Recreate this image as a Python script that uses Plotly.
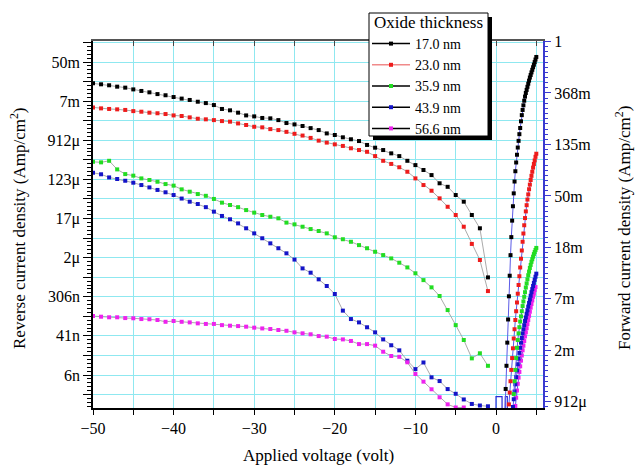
import numpy as np
import plotly.graph_objects as go

# ---------------- data (current density stored as natural log, A/cm^2) ----------------
series_names = ["17.0 nm", "23.0 nm", "35.9 nm", "43.9 nm", "56.6 nm"]
legend_title = "Oxide thickness"

rev_v = [-50, -49, -48, -47, -46, -45, -44, -43, -42, -41, -40, -39, -38, -37, -36, -35, -34,
         -33, -32, -31, -30, -29, -28, -27, -26, -25, -24, -23, -22, -21, -20, -19, -18, -17,
         -16, -15, -14, -13, -12, -11, -10, -9, -8, -7, -6, -5, -4, -3, -2, -1]
rev_v_56_6 = rev_v[:47]

ln_rev_17_0 = [-4.09, -4.14, -4.19, -4.26, -4.31, -4.40, -4.48, -4.55, -4.64, -4.70, -4.79, -4.87,
               -4.94, -5.03, -5.10, -5.20, -5.40, -5.47, -5.59, -5.73, -5.78, -5.86, -5.88, -5.97,
               -6.12, -6.19, -6.27, -6.38, -6.48, -6.65, -6.73, -6.85, -6.95, -7.04, -7.24, -7.38,
               -7.50, -7.67, -7.81, -8.05, -8.27, -8.52, -8.78, -9.20, -9.38, -9.80, -10.14, -10.82,
               -11.50, -14.01]
ln_rev_23_0 = [-5.32, -5.37, -5.40, -5.42, -5.45, -5.51, -5.54, -5.59, -5.62, -5.66, -5.73, -5.76,
               -5.83, -5.90, -5.93, -5.97, -6.02, -6.05, -6.14, -6.22, -6.31, -6.34, -6.43, -6.48,
               -6.57, -6.67, -6.76, -6.88, -7.02, -7.12, -7.21, -7.29, -7.41, -7.50, -7.59, -7.81,
               -8.05, -8.21, -8.38, -8.61, -8.95, -9.29, -9.58, -9.97, -10.40, -10.82, -11.42, -12.30,
               -13.12, -14.71]
ln_rev_35_9 = [-8.10, -8.13, -8.05, -8.49, -8.73, -8.81, -8.95, -9.03, -9.12, -9.24, -9.32, -9.51,
               -9.63, -9.75, -9.84, -10.00, -10.19, -10.31, -10.42, -10.57, -10.70, -10.82, -10.91,
               -10.99, -11.21, -11.30, -11.42, -11.54, -11.64, -11.76, -11.96, -12.06, -12.19, -12.36,
               -12.52, -12.70, -12.87, -13.04, -13.26, -13.50, -13.80, -14.15, -14.52, -14.96, -15.68,
               -16.45, -17.21, -18.15, -17.89, -18.53]
ln_rev_43_9 = [-8.66, -8.74, -8.90, -8.98, -9.07, -9.17, -9.29, -9.41, -9.54, -9.66, -9.80, -9.98,
               -10.14, -10.26, -10.42, -10.65, -10.87, -11.04, -11.25, -11.50, -11.76, -12.01, -12.27,
               -12.52, -12.78, -13.10, -13.55, -13.77, -14.11, -14.45, -14.86, -15.71, -16.14, -16.31,
               -16.56, -16.82, -17.18, -17.48, -17.74, -18.27, -18.70, -18.36, -19.12, -19.31, -19.72,
               -19.96, -20.25, -20.48, -20.56, -20.60]
ln_rev_56_6 = [-15.99, -16.02, -16.05, -16.05, -16.09, -16.10, -16.14, -16.15, -16.19, -16.28, -16.24,
               -16.28, -16.31, -16.36, -16.39, -16.39, -16.45, -16.48, -16.50, -16.53, -16.58, -16.62,
               -16.65, -16.70, -16.74, -16.82, -16.87, -16.92, -17.01, -17.04, -17.16, -17.18, -17.26,
               -17.42, -17.42, -17.50, -17.81, -18.03, -18.07, -18.35, -18.95, -19.34, -19.73, -20.14,
               -20.50, -20.66, -20.66]

fwd_v_17_0 = [1.1, 1.2, 1.3, 1.4, 1.5, 1.6, 1.7, 1.8, 1.9, 2.0, 2.1, 2.2, 2.3, 2.4, 2.5, 2.6, 2.7, 2.8,
              2.9, 3.0, 3.1, 3.2, 3.3, 3.4, 3.5, 3.6, 3.7, 3.8, 3.9, 4.0, 4.1, 4.2, 4.3, 4.4, 4.5, 4.6,
              4.7, 4.8, 4.9, 5.0]
ln_fwd_17_0 = [-7.25, -6.75, -6.30, -5.85, -5.40, -4.95, -4.55, -4.15, -3.80, -3.48, -3.20, -2.95, -2.72,
               -2.52, -2.35, -2.20, -2.06, -1.93, -1.80, -1.68, -1.55, -1.43, -1.33, -1.24, -1.15, -1.07,
               -1.00, -0.94, -0.88, -0.82, -0.76, -0.70, -0.65, -0.60, -0.55, -0.50, -0.45, -0.40,
               -0.35, -0.30]
fwd_v_23_0 = [1.6, 1.7, 1.8, 1.9, 2.0, 2.1, 2.2, 2.3, 2.4, 2.5, 2.6, 2.7, 2.8, 2.9, 3.0, 3.1, 3.2, 3.3,
              3.4, 3.5, 3.6, 3.7, 3.8, 3.9, 4.0, 4.1, 4.2, 4.3, 4.4, 4.5, 4.6, 4.7, 4.8, 4.9, 5.0]
ln_fwd_23_0 = [-7.05, -6.82, -6.60, -6.38, -6.15, -5.96, -5.77, -5.59, -5.41, -5.24, -5.07, -4.90,
               -4.73, -4.56, -4.39, -4.22, -4.06, -3.89, -3.73, -3.57, -3.43, -3.30, -3.18, -3.07,
               -2.97, -2.87, -2.78, -2.69, -2.61, -2.53, -2.45, -2.38, -2.31, -2.24, -2.18]
fwd_v_35_9 = [2.2, 2.3, 2.4, 2.5, 2.6, 2.7, 2.8, 2.9, 3.0, 3.1, 3.2, 3.3, 3.4, 3.5, 3.6, 3.7, 3.8, 3.9,
              4.0, 4.1, 4.2, 4.3, 4.4, 4.5, 4.6, 4.7, 4.8, 4.9, 5.0]
ln_fwd_35_9 = [-6.85, -6.60, -6.38, -6.15, -5.95, -5.80, -5.67, -5.55, -5.44, -5.34, -5.24, -5.14,
               -5.05, -4.96, -4.87, -4.78, -4.70, -4.62, -4.54, -4.47, -4.40, -4.34, -4.28, -4.23,
               -4.18, -4.13, -4.09, -4.05, -4.01]
fwd_v_43_9 = [2.1, 2.2, 2.3, 2.4, 2.5, 2.6, 2.7, 2.8, 2.9, 3.0, 3.1, 3.2, 3.3, 3.4, 3.5, 3.6, 3.7, 3.8,
              3.9, 4.0, 4.1, 4.2, 4.3, 4.4, 4.5, 4.6, 4.7, 4.8, 4.9, 5.0]
ln_fwd_43_9 = [-7.10, -6.95, -6.80, -6.66, -6.52, -6.39, -6.27, -6.16, -6.05, -5.95, -5.85, -5.76,
               -5.67, -5.59, -5.51, -5.43, -5.36, -5.29, -5.22, -5.15, -5.08, -5.01, -4.94, -4.87,
               -4.81, -4.75, -4.69, -4.63, -4.57, -4.51]
fwd_v_56_6 = [2.4, 2.5, 2.6, 2.7, 2.8, 2.9, 3.0, 3.1, 3.2, 3.3, 3.4, 3.5, 3.6, 3.7, 3.8, 3.9, 4.0, 4.1,
              4.2, 4.3, 4.4, 4.5, 4.6, 4.7, 4.8, 4.9]
ln_fwd_56_6 = [-7.08, -6.92, -6.78, -6.65, -6.53, -6.42, -6.31, -6.20, -6.10, -6.00, -5.91, -5.82,
               -5.73, -5.65, -5.57, -5.49, -5.41, -5.33, -5.25, -5.17, -5.10, -5.03, -4.96, -4.90,
               -4.83, -4.77]

# small step artefact of the forward trace near 0 V
step_v = [0.0, 0.0, 0.75, 0.75, 1.15, 1.15, 1.4, 1.4]
ln_step = [-7.6, -6.9, -6.9, -7.6, -7.6, -6.9, -6.9, -7.6]

# axis tick labels (natural-log spaced)
left_tick_ln = [-3, -5, -7, -9, -11, -13, -15, -17, -19]
left_tick_text = ["50m", "7m", "912μ", "123μ", "17μ", "2μ", "306n", "41n", "6n"]
right_tick_ln = [0, -1, -2, -3, -4, -5, -6, -7]
right_tick_text = ["1", "368m", "135m", "50m", "18m", "7m", "2m", "912μ"]
x_tick_vals = [-50, -45, -40, -35, -30, -25, -20, -15, -10, -5, 0, 5]
x_tick_text = ["\u221250", " ", "\u221240", " ", "\u221230", " ", "\u221220", " ", "\u221210", " ", "0", " "]

# ---------------- styling ----------------
colors = ["#000000", "#ee1c1c", "#22dd22", "#1414c8", "#ee22ee"]
legend_line_colors = ["#000000", "#f08a8a", "#000000", "#000000", "#000000"]
FONT = "Liberation Serif, Times New Roman, serif"
GRID = "#8fe8f0"
LN10 = np.log(10)
W, H = 637, 467
ML, MR, MT, MB = 93, 94, 41, 59
PW, PH = W - ML - MR, H - MT - MB


def px_x(p):
    return (p - ML) / PW


def px_y(p):
    return (H - MB - p) / PH


rev_sets = [(rev_v, ln_rev_17_0), (rev_v, ln_rev_23_0), (rev_v, ln_rev_35_9),
            (rev_v, ln_rev_43_9), (rev_v_56_6, ln_rev_56_6)]
fwd_sets = [(fwd_v_17_0, ln_fwd_17_0), (fwd_v_23_0, ln_fwd_23_0), (fwd_v_35_9, ln_fwd_35_9),
            (fwd_v_43_9, ln_fwd_43_9), (fwd_v_56_6, ln_fwd_56_6)]

fig = go.Figure()

fig.add_trace(go.Scatter(x=step_v, y=np.exp(ln_step), yaxis="y2", mode="lines",
                         line=dict(color="#2a2ad8", width=1.2), showlegend=False, hoverinfo="skip"))

for (xv, lv), c in zip(rev_sets, colors):
    fig.add_trace(go.Scatter(x=xv, y=np.exp(lv), mode="lines+markers",
                             line=dict(color="#a0a0a0", width=0.9),
                             marker=dict(symbol="square", size=4, color=c),
                             showlegend=False))

for (xv, lv), c in reversed(list(zip(fwd_sets, colors))):
    fig.add_trace(go.Scatter(x=xv, y=np.exp(lv), yaxis="y2", mode="lines+markers",
                             line=dict(color="#5a5ae6", width=1),
                             marker=dict(symbol="square", size=4, color=c),
                             showlegend=False))

for name, c, lc in zip(series_names, colors, legend_line_colors):
    fig.add_trace(go.Scatter(x=[None], y=[None], mode="lines+markers", name=name,
                             line=dict(color=lc, width=1.5),
                             marker=dict(symbol="square", size=4, color=c)))

fig.add_trace(go.Scatter(x=[None], y=[None], xaxis="x2", showlegend=False))

left_ln_top, left_ln_bot = -1.926, -20.687
right_ln_top, right_ln_bot = 0.01, -7.12
x_range = [-50, 5.83]

left_grid_ln = list(range(-2, -21, -1))
left_text_all = [left_tick_text[left_tick_ln.index(k)] if k in left_tick_ln else " " for k in left_grid_ln]
left_minor = [np.exp(-2 - 0.2 * i) for i in range(0, 94) if i % 5 != 0]
right_minor = [np.exp(-0.1 * i) for i in range(0, 72) if i % 10 != 0]

tick_font = dict(family=FONT, size=16, color="black")
title_font = dict(family=FONT, size=17, color="black")

# legend frame (pixel positions) with drop shadow
BOX_X0, BOX_X1, BOX_Y0, BOX_Y1 = 369, 488, 13, 136
SH = 4
shapes = [
    dict(type="rect", xref="paper", yref="paper", layer="above",
         x0=px_x(BOX_X0 + SH), x1=px_x(BOX_X1 + SH), y0=px_y(BOX_Y1 + SH), y1=px_y(BOX_Y0 + SH),
         fillcolor="black", line=dict(width=0)),
    dict(type="rect", xref="paper", yref="paper", layer="above",
         x0=px_x(BOX_X0), x1=px_x(BOX_X1), y0=px_y(BOX_Y1), y1=px_y(BOX_Y0),
         fillcolor="white", line=dict(color="black", width=1)),
]

fig.update_layout(
    template="none",
    width=W, height=H,
    margin=dict(l=ML, r=MR, t=MT, b=MB, autoexpand=False),
    paper_bgcolor="white", plot_bgcolor="white",
    font=dict(family=FONT, size=14, color="black"),
    xaxis=dict(range=x_range, tickmode="array", tickvals=x_tick_vals, ticktext=x_tick_text,
               ticks="outside", ticklen=5, tickcolor="black", showline=True, linecolor="black",
               linewidth=1.5, showgrid=True, gridcolor=GRID, gridwidth=1, zeroline=False,
               tickfont=tick_font, automargin=False),
    xaxis2=dict(range=x_range, overlaying="x", side="top", tickmode="array", tickvals=x_tick_vals,
                ticks="inside", ticklen=5, tickcolor="#444", showticklabels=False, showline=True,
                linecolor="#555", linewidth=1.5, showgrid=False, zeroline=False, automargin=False),
    yaxis=dict(type="log", range=[left_ln_bot / LN10, left_ln_top / LN10], tickmode="array",
               tickvals=[np.exp(k) for k in left_grid_ln], ticktext=left_text_all,
               ticks="outside", ticklen=8, tickcolor="black", tickwidth=1, showline=True,
               linecolor="black", linewidth=1.5, showgrid=True, gridcolor=GRID, gridwidth=1,
               zeroline=False, tickfont=tick_font, automargin=False,
               minor=dict(tickmode="array", tickvals=left_minor, ticks="outside", ticklen=4,
                          tickcolor="black", showgrid=False)),
    yaxis2=dict(type="log", overlaying="y", side="right",
                range=[right_ln_bot / LN10, right_ln_top / LN10], tickmode="array",
                tickvals=[np.exp(k) for k in right_tick_ln], ticktext=right_tick_text,
                ticks="outside", ticklen=6, tickcolor="#3a3ad0", tickwidth=1.2, showline=True,
                linecolor="#3a3ad0", linewidth=2, showgrid=False, zeroline=False,
                tickfont=tick_font, automargin=False,
                minor=dict(tickmode="array", tickvals=right_minor, ticks="outside", ticklen=3,
                           tickcolor="#3a3ad0", showgrid=False)),
    showlegend=True,
    legend=dict(font=dict(family=FONT, size=14), bgcolor="rgba(0,0,0,0)",
                borderwidth=0, x=px_x(367), y=px_y(28), xanchor="left", yanchor="top",
                tracegroupgap=0, itemwidth=38),
    shapes=shapes,
    annotations=[
        dict(text=legend_title, xref="paper", yref="paper", x=px_x((BOX_X0 + BOX_X1) / 2),
             y=px_y(23), showarrow=False, font=title_font, xanchor="center", yanchor="middle"),
        dict(text="Reverse current density (Amp/cm<sup>2</sup>)", xref="paper", yref="paper",
             x=px_x(18), y=px_y(228), textangle=-90, showarrow=False,
             font=title_font, xanchor="center", yanchor="middle"),
        dict(text="Forward current density (Amp/cm<sup>2</sup>)", xref="paper", yref="paper",
             x=px_x(623), y=px_y(228), textangle=-90, showarrow=False,
             font=title_font, xanchor="center", yanchor="middle"),
        dict(text="Applied voltage (volt)", xref="paper", yref="paper", x=0.5,
             y=px_y(455), showarrow=False, font=title_font,
             xanchor="center", yanchor="middle"),
    ],
)

fig.write_html("out.html", config={"displayModeBar": False},
               post_script="document.body.style.margin='0';")
